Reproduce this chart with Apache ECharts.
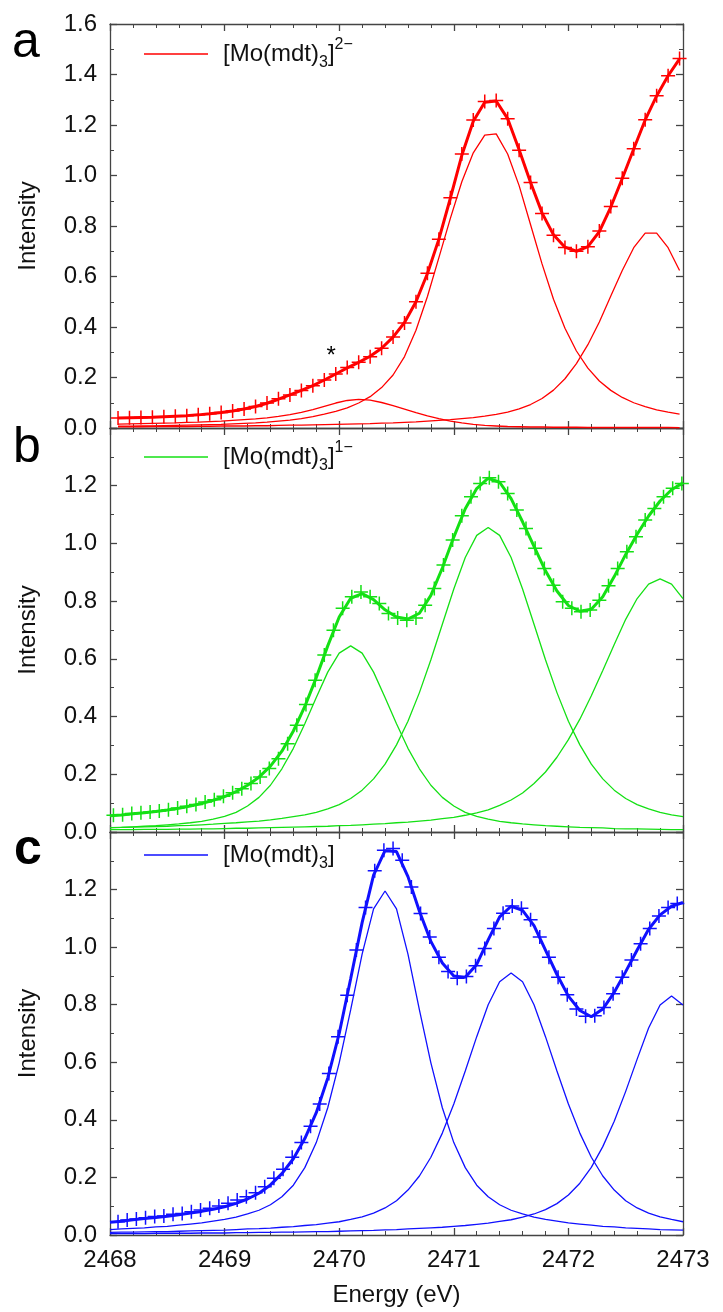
<!DOCTYPE html>
<html>
<head>
<meta charset="utf-8">
<script src="https://cdn.jsdelivr.net/npm/echarts@6.0.0/dist/echarts.min.js"></script>
<style>
html, body { margin: 0; padding: 0; background: #fff; }
#container { width: 723px; height: 1312px; }
</style>
</head>
<body>
<div id="container"></div>
<script>
var chart = echarts.init(document.getElementById('container'));
var font = 'Liberation Sans';
var axis_color = '#444';
var red = '#ff0000';
var green = '#14e014';
var blue = '#1010ff';

// sample positions (eV)
function steps(start, step, n) {
    var out = [];
    for (var i = 0; i < n; i++) out.push(+(start + step * i).toFixed(2));
    return out;
}
var energyA = steps(2468.07, 0.1, 50);
var energyB = steps(2468.03, 0.08, 63);
var energyC = steps(2468.07, 0.08, 62);
var energyFit = steps(2468.0, 0.1, 51);

var names = ['[Mo(mdt)3]2\u2212', '[Mo(mdt)3]1\u2212', '[Mo(mdt)3]'];

// panel a
var dataA = [0.040, 0.041, 0.042, 0.043, 0.045, 0.047, 0.049, 0.052, 0.056, 0.061,
    0.067, 0.075, 0.085, 0.099, 0.116, 0.131, 0.149, 0.167, 0.190, 0.214,
    0.240, 0.260, 0.282, 0.316, 0.360, 0.416, 0.500, 0.613, 0.748, 0.912,
    1.085, 1.220, 1.293, 1.297, 1.225, 1.100, 0.972, 0.850, 0.763, 0.715,
    0.700, 0.718, 0.780, 0.877, 0.989, 1.106, 1.221, 1.316, 1.395, 1.463];
var fitA = [0.040, 0.041, 0.042, 0.043, 0.045, 0.047, 0.049, 0.052, 0.056, 0.061,
    0.067, 0.075, 0.085, 0.098, 0.114, 0.131, 0.149, 0.168, 0.190, 0.214,
    0.238, 0.260, 0.284, 0.316, 0.360, 0.418, 0.500, 0.612, 0.748, 0.910,
    1.080, 1.215, 1.290, 1.295, 1.225, 1.102, 0.972, 0.852, 0.765, 0.716,
    0.700, 0.718, 0.778, 0.875, 0.988, 1.105, 1.220, 1.315, 1.395, 1.462];
var compA1 = [0.015, 0.016, 0.017, 0.018, 0.019, 0.020, 0.022, 0.023, 0.025, 0.027,
    0.030, 0.033, 0.036, 0.040, 0.046, 0.053, 0.062, 0.073, 0.086, 0.099,
    0.109, 0.113, 0.110, 0.101, 0.089, 0.075, 0.061, 0.048, 0.037, 0.027,
    0.020, 0.014, 0.010, 0.008, 0.006, 0.005, 0.004, 0.004, 0.003, 0.003,
    0.003, 0.002, 0.002, 0.002, 0.002, 0.002, 0.002, 0.002, 0.002, 0.001];
var compA2 = [0.007, 0.007, 0.008, 0.008, 0.009, 0.010, 0.011, 0.012, 0.013, 0.014,
    0.016, 0.018, 0.020, 0.023, 0.027, 0.031, 0.037, 0.045, 0.055, 0.066,
    0.080, 0.099, 0.124, 0.160, 0.210, 0.283, 0.387, 0.521, 0.675, 0.830,
    0.975, 1.090, 1.160, 1.165, 1.085, 0.960, 0.805, 0.650, 0.510, 0.395,
    0.305, 0.237, 0.186, 0.149, 0.121, 0.100, 0.085, 0.072, 0.063, 0.055];
var compA3 = [0.005, 0.005, 0.005, 0.006, 0.006, 0.006, 0.006, 0.007, 0.007, 0.008,
    0.008, 0.008, 0.009, 0.009, 0.010, 0.011, 0.011, 0.012, 0.013, 0.014,
    0.015, 0.016, 0.017, 0.019, 0.020, 0.022, 0.024, 0.027, 0.030, 0.033,
    0.037, 0.041, 0.047, 0.054, 0.063, 0.076, 0.093, 0.117, 0.150, 0.195,
    0.255, 0.330, 0.420, 0.523, 0.624, 0.714, 0.772, 0.772, 0.714, 0.624];

// panel b
var dataB = [0.058, 0.060, 0.064, 0.067, 0.069, 0.073, 0.077, 0.083, 0.089, 0.095,
    0.104, 0.112, 0.124, 0.136, 0.150, 0.168, 0.191, 0.220, 0.254, 0.306,
    0.370, 0.442, 0.526, 0.613, 0.699, 0.775, 0.815, 0.832, 0.815, 0.792,
    0.757, 0.742, 0.734, 0.742, 0.786, 0.844, 0.925, 1.012, 1.096, 1.162,
    1.208, 1.228, 1.214, 1.173, 1.116, 1.052, 0.983, 0.913, 0.855, 0.798,
    0.775, 0.763, 0.769, 0.803, 0.853, 0.913, 0.971, 1.023, 1.081, 1.121,
    1.162, 1.191, 1.208];
var fitB = [0.056, 0.059, 0.063, 0.067, 0.071, 0.076, 0.082, 0.090, 0.099, 0.110,
    0.123, 0.140, 0.162, 0.190, 0.228, 0.280, 0.350, 0.435, 0.535, 0.645,
    0.745, 0.810, 0.826, 0.805, 0.770, 0.745, 0.738, 0.758, 0.820, 0.915,
    1.022, 1.120, 1.190, 1.226, 1.212, 1.155, 1.075, 0.990, 0.905, 0.835,
    0.785, 0.765, 0.772, 0.815, 0.885, 0.962, 1.032, 1.095, 1.147, 1.186,
    1.210];
var compB1 = [0.015, 0.016, 0.018, 0.020, 0.022, 0.025, 0.028, 0.032, 0.037, 0.045,
    0.054, 0.068, 0.090, 0.120, 0.162, 0.219, 0.290, 0.375, 0.466, 0.554,
    0.620, 0.645, 0.620, 0.554, 0.466, 0.375, 0.290, 0.219, 0.162, 0.120,
    0.090, 0.068, 0.054, 0.045, 0.037, 0.032, 0.028, 0.025, 0.022, 0.020,
    0.018, 0.016, 0.015, 0.014, 0.012, 0.011, 0.011, 0.010, 0.009, 0.008,
    0.008];
var compB2 = [0.015, 0.016, 0.017, 0.018, 0.019, 0.020, 0.022, 0.023, 0.025, 0.027,
    0.030, 0.032, 0.035, 0.038, 0.042, 0.047, 0.053, 0.059, 0.068, 0.080,
    0.095, 0.116, 0.145, 0.184, 0.235, 0.302, 0.384, 0.483, 0.597, 0.720,
    0.842, 0.951, 1.028, 1.055, 1.028, 0.951, 0.842, 0.720, 0.597, 0.483,
    0.384, 0.302, 0.235, 0.184, 0.145, 0.116, 0.095, 0.080, 0.068, 0.059,
    0.053];
var compB3 = [0.008, 0.008, 0.008, 0.009, 0.009, 0.009, 0.010, 0.010, 0.011, 0.011,
    0.012, 0.013, 0.013, 0.014, 0.015, 0.016, 0.017, 0.018, 0.019, 0.020,
    0.022, 0.023, 0.025, 0.027, 0.029, 0.032, 0.034, 0.038, 0.041, 0.046,
    0.051, 0.058, 0.066, 0.077, 0.092, 0.111, 0.135, 0.168, 0.208, 0.259,
    0.320, 0.391, 0.472, 0.560, 0.650, 0.737, 0.809, 0.859, 0.877, 0.859,
    0.809];

// panel c
var dataC = [0.046, 0.052, 0.056, 0.060, 0.064, 0.066, 0.072, 0.075, 0.081, 0.087,
    0.093, 0.101, 0.110, 0.122, 0.133, 0.147, 0.168, 0.197, 0.228, 0.270,
    0.321, 0.378, 0.455, 0.561, 0.689, 0.833, 0.990, 1.138, 1.265, 1.337,
    1.343, 1.302, 1.209, 1.117, 1.035, 0.965, 0.915, 0.892, 0.898, 0.935,
    0.995, 1.065, 1.118, 1.143, 1.135, 1.095, 1.035, 0.965, 0.895, 0.835,
    0.785, 0.760, 0.762, 0.790, 0.838, 0.895, 0.955, 1.012, 1.065, 1.108,
    1.138, 1.152];
var fitC = [0.044, 0.048, 0.053, 0.057, 0.061, 0.065, 0.070, 0.076, 0.082, 0.089,
    0.098, 0.110, 0.125, 0.145, 0.174, 0.213, 0.265, 0.335, 0.425, 0.545,
    0.700, 0.890, 1.085, 1.250, 1.335, 1.332, 1.245, 1.125, 1.020, 0.945,
    0.900, 0.895, 0.940, 1.025, 1.105, 1.142, 1.128, 1.075, 0.990, 0.905,
    0.830, 0.780, 0.758, 0.785, 0.843, 0.915, 0.990, 1.062, 1.112, 1.142,
    1.155];
var compC1 = [0.019, 0.021, 0.023, 0.025, 0.028, 0.030, 0.034, 0.038, 0.042, 0.048,
    0.054, 0.062, 0.073, 0.086, 0.105, 0.133, 0.173, 0.234, 0.321, 0.442,
    0.598, 0.782, 0.976, 1.133, 1.195, 1.133, 0.976, 0.782, 0.598, 0.442,
    0.321, 0.234, 0.173, 0.133, 0.105, 0.086, 0.073, 0.062, 0.054, 0.048,
    0.042, 0.038, 0.034, 0.030, 0.028, 0.025, 0.023, 0.021, 0.019, 0.018,
    0.017];
var compC2 = [0.009, 0.010, 0.010, 0.011, 0.012, 0.012, 0.013, 0.014, 0.015, 0.016,
    0.017, 0.019, 0.021, 0.022, 0.024, 0.027, 0.029, 0.033, 0.036, 0.041,
    0.046, 0.054, 0.063, 0.076, 0.094, 0.119, 0.156, 0.205, 0.270, 0.354,
    0.455, 0.570, 0.689, 0.800, 0.880, 0.910, 0.880, 0.800, 0.689, 0.570,
    0.455, 0.354, 0.270, 0.205, 0.156, 0.119, 0.094, 0.076, 0.063, 0.054,
    0.046];
var compC3 = [0.005, 0.005, 0.005, 0.005, 0.006, 0.006, 0.006, 0.006, 0.007, 0.007,
    0.007, 0.008, 0.008, 0.009, 0.009, 0.010, 0.010, 0.011, 0.012, 0.012,
    0.013, 0.014, 0.015, 0.016, 0.018, 0.019, 0.021, 0.023, 0.025, 0.027,
    0.030, 0.033, 0.037, 0.041, 0.047, 0.053, 0.062, 0.073, 0.088, 0.109,
    0.139, 0.180, 0.235, 0.307, 0.395, 0.499, 0.611, 0.719, 0.799, 0.830,
    0.799];

var yMax = [1.6, 1.4, 1.4];
var gridTop = [24, 428, 832];
var gridHeight = [404, 404, 403];

var plus = 'path://M7,0 L7,14 M0,7 L14,7';

function pairs(xs, ys) {
    return xs.map(function (x, k) { return [x, ys[k]]; });
}

function lineSeries(name, i, xs, ys, color, width) {
    return {
        name: name,
        type: 'line',
        xAxisIndex: 2 * i,
        yAxisIndex: 2 * i,
        data: pairs(xs, ys),
        symbol: 'none',
        silent: true,
        lineStyle: { color: color, width: width },
        itemStyle: { color: color }
    };
}

function pointSeries(i, xs, ys, color) {
    return {
        name: 'points' + i,
        type: 'scatter',
        xAxisIndex: 2 * i,
        yAxisIndex: 2 * i,
        data: pairs(xs, ys),
        symbol: plus,
        symbolSize: 14,
        silent: true,
        itemStyle: { color: 'rgba(0,0,0,0)', borderColor: color, borderWidth: 1.5, opacity: 1 }
    };
}

function xAxisFor(i, pos) {
    var labelled = (pos === 'bottom' && i === 2);
    return {
        type: 'value',
        gridIndex: i,
        position: pos,
        min: 2468,
        max: 2473,
        interval: 1,
        axisLine: { show: true, onZero: false, lineStyle: { color: axis_color, width: 1.3 } },
        axisTick: { show: true, inside: true, length: 7, lineStyle: { color: axis_color, width: 1.3 } },
        minorTick: { show: true, splitNumber: 5, length: 4, lineStyle: { color: axis_color, width: 1 } },
        splitLine: { show: false },
        axisLabel: {
            show: labelled,
            margin: 13,
            color: '#111',
            fontSize: 24,
            fontFamily: font,
            formatter: function (v) { return String(v); }
        },
        name: labelled ? 'Energy (eV)' : '',
        nameLocation: 'middle',
        nameGap: 48,
        nameTextStyle: { color: '#111', fontSize: 24, fontFamily: font }
    };
}

function yAxisFor(i, pos) {
    var labelled = (pos === 'left');
    return {
        type: 'value',
        gridIndex: i,
        position: pos,
        min: 0,
        max: yMax[i],
        interval: 0.2,
        axisLine: { show: true, onZero: false, lineStyle: { color: axis_color, width: 1.3 } },
        axisTick: { show: true, inside: true, length: 7, lineStyle: { color: axis_color, width: 1.3 } },
        minorTick: { show: true, splitNumber: 2, length: 4, lineStyle: { color: axis_color, width: 1 } },
        splitLine: { show: false },
        axisLabel: {
            show: labelled,
            showMaxLabel: i === 0,
            margin: 13,
            color: '#111',
            fontSize: 24,
            fontFamily: font,
            formatter: function (v) { return v.toFixed(1); }
        },
        name: labelled ? 'Intensity' : '',
        nameLocation: 'middle',
        nameGap: 70,
        nameTextStyle: { color: '#111', fontSize: 24, fontFamily: font }
    };
}

var grids = [], xAxes = [], yAxes = [];
for (var i = 0; i < 3; i++) {
    grids.push({ left: 110, right: 40, top: gridTop[i], height: gridHeight[i], outerBoundsMode: 'none' });
    xAxes.push(xAxisFor(i, 'bottom'), xAxisFor(i, 'top'));
    yAxes.push(yAxisFor(i, 'left'), yAxisFor(i, 'right'));
}

function legendText(name) {
    var sup = name === names[0] ? '2\u2212' : (name === names[1] ? '1\u2212' : '');
    return '{m0|[Mo(mdt)}{s|3}{m|]}' + (sup ? '{p|' + sup + '}' : '');
}

var legendRich = {
    m0: { fontSize: 24, lineHeight: 34, fontFamily: font, color: '#111', padding: [0, 0, 0, 10] },
    m: { fontSize: 24, lineHeight: 34, fontFamily: font, color: '#111' },
    s: { fontSize: 16, lineHeight: 16, fontFamily: font, color: '#111', verticalAlign: 'bottom' },
    p: { fontSize: 16, lineHeight: 16, fontFamily: font, color: '#111', verticalAlign: 'top' }
};

var legendTop = [32, 435, 838];
var legends = [0, 1, 2].map(function (i) {
    return {
        data: [names[i]],
        left: 139,
        top: legendTop[i],
        icon: 'rect',
        itemWidth: 64,
        itemHeight: 1.5,
        selectedMode: false,
        formatter: legendText,
        textStyle: { fontSize: 24, fontFamily: font, color: '#111', rich: legendRich }
    };
});

var pointsA = pointSeries(0, energyA, dataA, red);
pointsA.markPoint = {
    symbol: 'circle',
    symbolSize: 1,
    itemStyle: { color: 'rgba(0,0,0,0)' },
    label: { show: true, position: 'inside', formatter: '*', color: '#000', fontSize: 24, fontFamily: font },
    data: [{ coord: [2469.93, 0.283] }]
};

var option = {
    animation: false,
    backgroundColor: '#fff',
    grid: grids,
    xAxis: xAxes,
    yAxis: yAxes,
    legend: legends,
    graphic: [
        { type: 'text', x: 12, y: 43, style: { text: 'a', verticalAlign: 'middle', fill: '#000', font: '50px "Liberation Sans"' } },
        { type: 'text', x: 13, y: 448, style: { text: 'b', verticalAlign: 'middle', fill: '#000', font: '50px "Liberation Sans"' } },
        { type: 'text', x: 14, y: 850, style: { text: 'c', verticalAlign: 'middle', fill: '#000', font: 'bold 50px "Liberation Sans"' } }
    ],
    series: [
        // panel a
        lineSeries('a1', 0, energyA, compA1, red, 1.3),
        lineSeries('a2', 0, energyA, compA2, red, 1.3),
        lineSeries('a3', 0, energyA, compA3, red, 1.3),
        lineSeries(names[0], 0, energyA, fitA, red, 3),
        pointsA,
        // panel b
        lineSeries('b1', 1, energyFit, compB1, green, 1.3),
        lineSeries('b2', 1, energyFit, compB2, green, 1.3),
        lineSeries('b3', 1, energyFit, compB3, green, 1.3),
        lineSeries(names[1], 1, energyFit, fitB, green, 3),
        pointSeries(1, energyB, dataB, green),
        // panel c
        lineSeries('c1', 2, energyFit, compC1, blue, 1.3),
        lineSeries('c2', 2, energyFit, compC2, blue, 1.3),
        lineSeries('c3', 2, energyFit, compC3, blue, 1.3),
        lineSeries(names[2], 2, energyFit, fitC, blue, 3),
        pointSeries(2, energyC, dataC, blue)
    ]
};
chart.setOption(option);
</script>
</body>
</html>
